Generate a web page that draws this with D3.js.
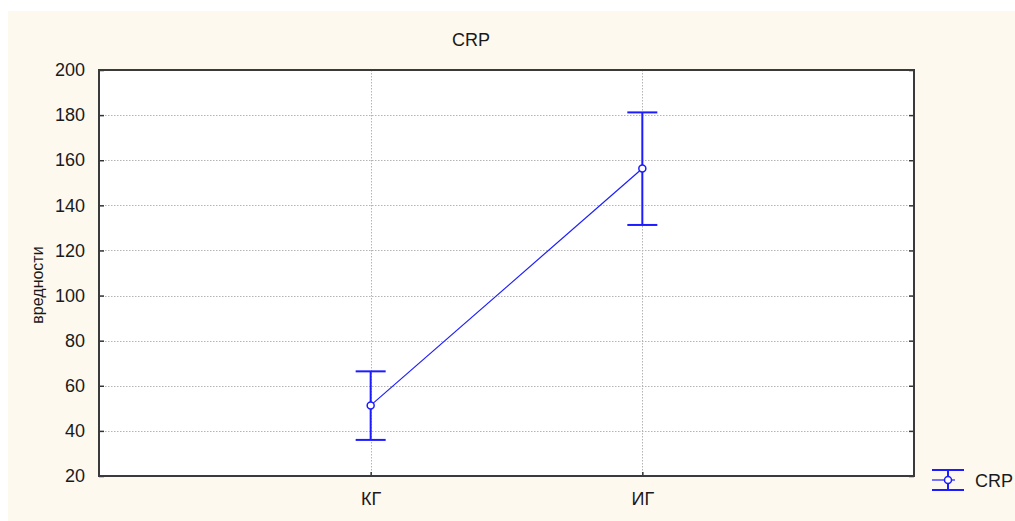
<!DOCTYPE html>
<html>
<head>
<meta charset="utf-8">
<script src="https://cdn.jsdelivr.net/npm/d3@7"></script>
<style>
  html, body { margin: 0; padding: 0; background: #ffffff; }
  svg { display: block; }
  text { font-family: "Liberation Sans", Arial, sans-serif; fill: #1a1a1a; }
</style>
</head>
<body>
<svg id="chart" width="1015" height="521"></svg>
<script>
// Group means with their error limits
const groups = ["КГ", "ИГ"];
const means = [51.3, 156.3];
const lower = [36.0, 131.3];
const upper = [66.4, 181.2];
const yTicks = [20, 40, 60, 80, 100, 120, 140, 160, 180, 200];
const title = "CRP";
const yLabel = "вредности";
const seriesName = "CRP";

const W = 1015, H = 521;
const plot = { left: 99, top: 70, right: 914, bottom: 476 };
const blue = "#1c1cff";

const svg = d3.select("#chart");

// cream panel behind everything
svg.append("rect")
  .attr("x", 8).attr("y", 11)
  .attr("width", W - 8).attr("height", H - 11)
  .attr("fill", "#fef9ef");

// plot area
svg.append("rect")
  .attr("x", plot.left).attr("y", plot.top)
  .attr("width", plot.right - plot.left).attr("height", plot.bottom - plot.top)
  .attr("fill", "#ffffff");

const x = d3.scalePoint().domain(groups)
  .range([plot.left, plot.right]).padding(1);
const y = d3.scaleLinear().domain([20, 200]).range([plot.bottom, plot.top]);

// dotted grid
const grid = svg.append("g")
  .attr("stroke", "#b4b4b4").attr("stroke-width", 1)
  .attr("stroke-dasharray", "1.5,1.5");
grid.selectAll("line.h").data(yTicks.filter(t => t > 20 && t < 200)).join("line")
  .attr("class", "h")
  .attr("x1", plot.left).attr("x2", plot.right)
  .attr("y1", d => Math.round(y(d)) + 0.5).attr("y2", d => Math.round(y(d)) + 0.5);
grid.selectAll("line.v").data(groups).join("line")
  .attr("class", "v")
  .attr("x1", d => Math.round(x(d)) + 0.5).attr("x2", d => Math.round(x(d)) + 0.5)
  .attr("y1", plot.top).attr("y2", plot.bottom);

// axes: labels outside, ticks pointing inward
const yAxisL = d3.axisLeft(y).tickValues(yTicks).tickSize(-5).tickPadding(14);
const gy = svg.append("g").attr("transform", `translate(${plot.left},0)`).call(yAxisL);
gy.select(".domain").remove();
gy.selectAll(".tick line").attr("stroke", "#333").attr("stroke-width", 1.5);
gy.selectAll(".tick text")
  .attr("font-size", 18).attr("fill", "#1a1a1a")
  .attr("font-family", "'Liberation Sans', Arial, sans-serif");

const yAxisR = d3.axisRight(y).tickValues(yTicks).tickSize(-5).tickFormat("");
const gyr = svg.append("g").attr("transform", `translate(${plot.right},0)`).call(yAxisR);
gyr.select(".domain").remove();
gyr.selectAll(".tick line").attr("stroke", "#333").attr("stroke-width", 1.5);

const xAxis = d3.axisBottom(x).tickSize(-4).tickPadding(16);
const gx = svg.append("g").attr("transform", `translate(0,${plot.bottom})`).call(xAxis);
gx.select(".domain").remove();
gx.selectAll(".tick line").attr("stroke", "#333").attr("stroke-width", 1.5);
gx.selectAll(".tick text")
  .attr("font-size", 18).attr("fill", "#1a1a1a")
  .attr("font-family", "'Liberation Sans', Arial, sans-serif");

// frame
svg.append("rect")
  .attr("x", plot.left).attr("y", plot.top)
  .attr("width", plot.right - plot.left).attr("height", plot.bottom - plot.top)
  .attr("fill", "none").attr("stroke", "#3a3a3a").attr("stroke-width", 2);

// series
const pts = groups.map((g, i) => ({ g, m: means[i], lo: lower[i], hi: upper[i] }));
const capHalf = 15;

svg.append("path")
  .datum(pts)
  .attr("fill", "none").attr("stroke", blue).attr("stroke-width", 1.2)
  .attr("d", d3.line().x(d => x(d.g)).y(d => y(d.m)));

const eb = svg.append("g").attr("stroke", blue).attr("stroke-width", 2).attr("fill", "none");
eb.selectAll("line.stem").data(pts).join("line").attr("class", "stem")
  .attr("x1", d => x(d.g)).attr("x2", d => x(d.g))
  .attr("y1", d => y(d.lo)).attr("y2", d => y(d.hi));
eb.selectAll("line.capHi").data(pts).join("line").attr("class", "capHi")
  .attr("x1", d => x(d.g) - capHalf).attr("x2", d => x(d.g) + capHalf)
  .attr("y1", d => y(d.hi)).attr("y2", d => y(d.hi));
eb.selectAll("line.capLo").data(pts).join("line").attr("class", "capLo")
  .attr("x1", d => x(d.g) - capHalf).attr("x2", d => x(d.g) + capHalf)
  .attr("y1", d => y(d.lo)).attr("y2", d => y(d.lo));

svg.append("g").selectAll("circle").data(pts).join("circle")
  .attr("cx", d => x(d.g)).attr("cy", d => y(d.m)).attr("r", 3.5)
  .attr("fill", "#ffffff").attr("stroke", blue).attr("stroke-width", 1.5);

// title
svg.append("text")
  .attr("x", 471).attr("y", 46)
  .attr("text-anchor", "middle").attr("font-size", 18)
  .text(title);

// y-axis label
svg.append("text")
  .attr("transform", "translate(43,285) rotate(-90)")
  .attr("text-anchor", "middle").attr("font-size", 16)
  .text(yLabel);

// legend
const lg = svg.append("g").attr("stroke", blue).attr("stroke-width", 2).attr("fill", "none");
const lx = 932, lcx = 948, ly = 480;
lg.append("line").attr("x1", lx).attr("x2", lx + 32).attr("y1", ly - 10).attr("y2", ly - 10);
lg.append("line").attr("x1", lx).attr("x2", lx + 32).attr("y1", ly + 10).attr("y2", ly + 10);
lg.append("line").attr("x1", lcx).attr("x2", lcx).attr("y1", ly - 10).attr("y2", ly + 10);
lg.append("line").attr("x1", lx).attr("x2", lx + 23).attr("y1", ly).attr("y2", ly)
  .attr("stroke-width", 1.2);
lg.append("circle").attr("cx", lcx).attr("cy", ly).attr("r", 3.5)
  .attr("fill", "#ffffff").attr("stroke-width", 1.5);
svg.append("text")
  .attr("x", 975).attr("y", 487).attr("font-size", 18)
  .text(seriesName);
</script>
</body>
</html>
